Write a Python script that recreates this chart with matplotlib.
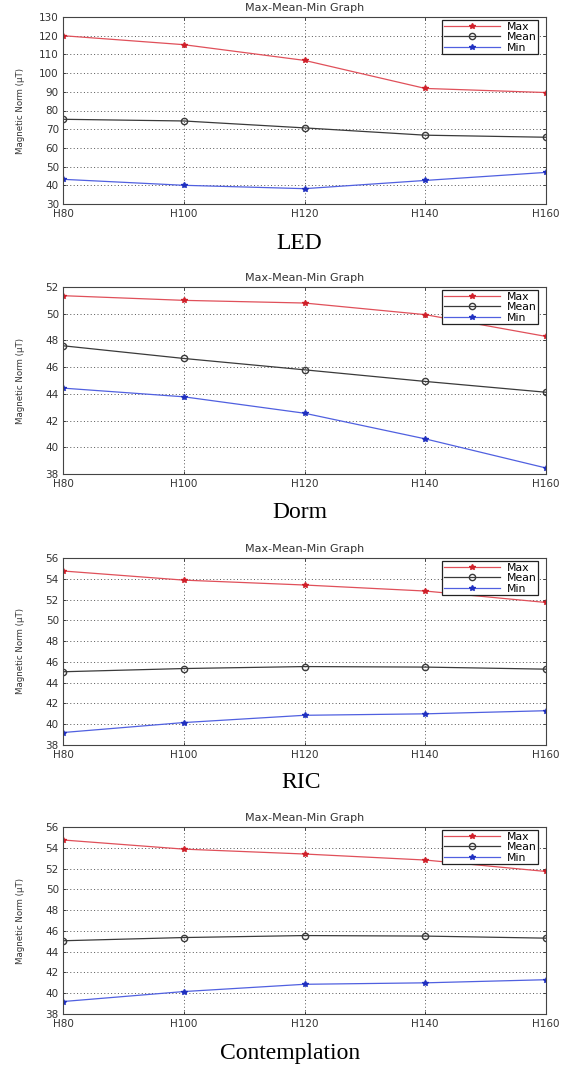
import numpy as np
import matplotlib.pyplot as plt
from matplotlib import font_manager

heights = ["H80", "H100", "H120", "H140", "H160"]

led_max = [120.0, 115.2, 106.8, 91.8, 89.6]
led_mean = [75.3, 74.4, 70.7, 66.8, 65.7]
led_min = [43.2, 40.0, 38.2, 42.6, 46.9]

dorm_max = [51.35, 51.0, 50.8, 49.93, 48.3]
dorm_mean = [47.6, 46.65, 45.8, 44.93, 44.12]
dorm_min = [44.43, 43.78, 42.55, 40.63, 38.45]

ric_max = [54.75, 53.87, 53.4, 52.82, 51.72]
ric_mean = [45.05, 45.36, 45.55, 45.5, 45.3]
ric_min = [39.2, 40.16, 40.86, 41.0, 41.3]

cont_max = [54.75, 53.87, 53.4, 52.82, 51.72]
cont_mean = [45.05, 45.36, 45.55, 45.5, 45.3]
cont_min = [39.2, 40.16, 40.86, 41.0, 41.3]

panels = [
    ("LED", led_max, led_mean, led_min, (30, 130), np.arange(30, 131, 10)),
    ("Dorm", dorm_max, dorm_mean, dorm_min, (38, 52), np.arange(38, 53, 2)),
    ("RIC", ric_max, ric_mean, ric_min, (38, 56), np.arange(38, 57, 2)),
    ("Contemplation", cont_max, cont_mean, cont_min, (38, 56), np.arange(38, 57, 2)),
]

W, H = 571, 1065
ax_left, ax_right = 63, 546
ax_tops = [17, 287, 558, 827]
ax_h = 187
# caption centres in pixels
captions_xy = [(299, 243.5), (299.5, 512), (301, 783), (290, 1053)]

names = {f.name for f in font_manager.fontManager.ttflist}
narrow = "Liberation Sans Narrow" if "Liberation Sans Narrow" in names else "DejaVu Sans"

fig = plt.figure(figsize=(W / 100, H / 100), dpi=100)
x = np.arange(len(heights))
axw = ax_right - ax_left

for (name, ymax, ymean, ymin, ylim, yticks), top, (cx, cy) in zip(panels, ax_tops, captions_xy):
    ax = fig.add_axes([ax_left / W, 1 - (top + ax_h) / H, axw / W, ax_h / H])
    ax.plot(x, ymax, color="#e0505a", lw=0.9, marker="*", ms=4,
            markerfacecolor="#d0202a", markeredgecolor="#d0202a", label="Max")
    ax.plot(x, ymean, color="#3a3a3a", lw=0.9, marker="o", ms=4.5,
            markerfacecolor="none", markeredgecolor="#3a3a3a", label="Mean")
    ax.plot(x, ymin, color="#5060e0", lw=0.9, marker="*", ms=4,
            markerfacecolor="#2030c0", markeredgecolor="#2030c0", label="Min")
    ax.set_xlim(0, len(heights) - 1)
    ax.set_ylim(*ylim)
    ax.set_xticks(x)
    ax.set_xticklabels(heights, fontsize=7.5, color="#333333")
    ax.set_yticks(yticks)
    ax.set_yticklabels([str(t) for t in yticks], fontsize=7.5, color="#333333")
    ax.tick_params(length=2.5, width=0.5, direction="in", top=True, right=True)
    ax.tick_params(axis="x", pad=3.5)
    ax.tick_params(axis="y", pad=3)
    ax.grid(True, linestyle=(0, (1, 2.5)), color="#555555", linewidth=0.7)
    for s in ax.spines.values():
        s.set_color("#444444")
        s.set_linewidth(0.8)
    ax.set_title("Max-Mean-Min Graph", fontsize=8, color="#333333", pad=4)
    ax.set_ylabel("Magnetic Norm (\u00b5T)", fontsize=6.2, color="#333333",
                  family=[narrow, "DejaVu Sans"])
    ax.yaxis.set_label_coords(-(ax_left - 25) / axw, 0.5)
    leg = ax.legend(loc="upper right", bbox_to_anchor=(1 - 8 / axw, 1 - 3 / ax_h),
                    fontsize=7.8, frameon=True, fancybox=False, framealpha=1,
                    borderpad=0.15, labelspacing=0.05, handlelength=5.2,
                    handletextpad=0.6, borderaxespad=0)
    leg.get_frame().set_edgecolor("#222222")
    leg.get_frame().set_linewidth(0.9)
    fig.text(cx / W, 1 - cy / H, name, ha="center", va="center", fontsize=17,
             family="Liberation Serif")

fig.savefig("out.png", dpi=100)
